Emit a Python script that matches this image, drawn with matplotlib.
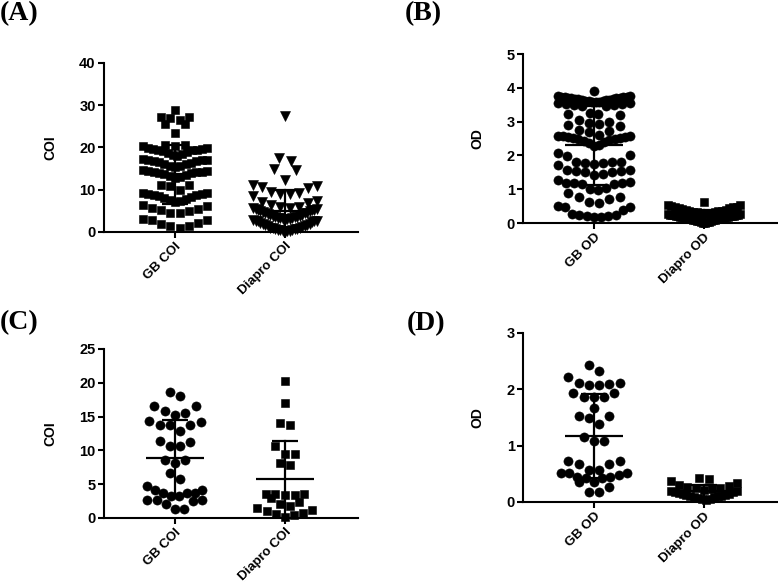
import numpy as np
import matplotlib
matplotlib.use("Agg")
import matplotlib.pyplot as plt

plt.rcParams["font.family"] = ["Liberation Sans", "DejaVu Sans"]
plt.rcParams["font.weight"] = "bold"

cats_coi = ["GB COI", "Diapro COI"]
cats_od = ["GB OD", "Diapro OD"]

# (A) COI, large sample
a_gb_coi = [0.9, 1.5, 1.5, 2.0, 2.1, 2.8, 2.9, 3.0,
            4.5, 4.5, 4.9, 5.3, 5.4, 5.7, 6.1, 6.3,
            7.2, 7.4, 7.6, 7.9, 8.1, 8.3, 8.5, 8.7, 8.8, 9.0, 9.1, 9.2, 9.3,
            10.0, 10.8, 11.1, 11.2,
            12.8, 13.0, 13.3, 13.5, 13.7, 13.9, 14.0, 14.1, 14.2, 14.3, 14.4, 14.5, 14.6,
            15.3, 15.5, 15.7, 16.0, 16.2, 16.4, 16.6, 16.8, 16.9, 17.0, 17.1, 17.1, 17.2,
            18.0, 18.2, 18.5, 18.7, 18.9, 19.1, 19.3, 19.4, 19.5, 19.6, 19.7, 19.8, 19.9,
            20.3, 20.4, 20.5, 20.7,
            23.4, 25.6, 25.6, 26.4, 27.0, 27.1, 27.2, 28.8]
a_diapro_coi = [0.1, 0.2, 0.2, 0.3, 0.4, 0.5, 0.5, 0.6, 0.7, 0.8, 0.9, 0.9, 1.0, 1.2,
                1.3, 1.4, 1.6, 1.7, 1.9, 2.0, 2.2, 2.4,
                2.5, 2.6, 2.6, 2.7, 2.8, 2.9, 3.0, 3.0, 3.1, 3.2, 3.3, 3.4, 3.5, 3.5,
                3.6, 3.8, 3.9, 4.0, 4.1, 4.3, 4.4, 4.5, 4.6, 4.8,
                4.9, 5.0, 5.1, 5.2, 5.3, 5.4, 5.5, 5.6, 5.7, 5.9, 6.0, 6.5, 6.8, 7.1,
                7.4, 8.4, 8.9, 9.0, 9.3, 9.5,
                10.4, 10.6, 10.8, 11.2, 12.2,
                14.6, 14.8, 16.8, 17.5, 27.4]

# (B) OD, large sample
b_gb_od = [0.19, 0.19, 0.21, 0.22, 0.24, 0.25, 0.26, 0.40, 0.46, 0.46, 0.50,
           0.60, 0.62, 0.72, 0.78, 0.78, 0.88,
           0.97, 1.02, 1.05, 1.15, 1.16, 1.17, 1.18, 1.19, 1.20, 1.27,
           1.43, 1.45, 1.50, 1.52, 1.53, 1.55, 1.56, 1.57, 1.72,
           1.76, 1.78, 1.79, 1.80, 1.81, 1.82, 1.98, 2.02, 2.07,
           2.28, 2.32, 2.36, 2.40, 2.43, 2.46, 2.48, 2.50, 2.52, 2.53, 2.55, 2.55,
           2.56, 2.57, 2.58, 2.60,
           2.70, 2.72, 2.75, 2.88, 2.90, 2.92, 2.95,
           3.00, 3.05, 3.20, 3.22, 3.24, 3.25,
           3.45, 3.46, 3.48, 3.50, 3.51, 3.53, 3.54, 3.55, 3.57, 3.58, 3.59, 3.60,
           3.61, 3.62, 3.63, 3.64, 3.65, 3.66, 3.67, 3.68, 3.69, 3.70, 3.70, 3.71,
           3.72, 3.73, 3.74, 3.74, 3.75, 3.76, 3.92]
b_diapro_od = [0.00, 0.01, 0.02, 0.03, 0.04, 0.05, 0.06, 0.07, 0.08, 0.08, 0.09, 0.10,
               0.11, 0.12, 0.12, 0.13, 0.14, 0.15, 0.15, 0.16, 0.17, 0.18, 0.18, 0.19,
               0.20, 0.20, 0.21, 0.22, 0.22, 0.23, 0.23, 0.24, 0.25, 0.25, 0.26, 0.27,
               0.28, 0.29, 0.30, 0.31, 0.32, 0.33, 0.34, 0.35, 0.36, 0.37, 0.38, 0.40,
               0.42, 0.43, 0.44, 0.46, 0.47, 0.48, 0.51, 0.53, 0.54, 0.61]

# (C) COI, small sample
c_gb_coi = [1.3, 1.3, 2.1, 2.5, 2.7, 2.7, 2.7, 3.2, 3.2, 3.7, 3.7, 3.7, 4.1, 4.1, 4.7,
            5.7, 6.7, 8.1, 8.6, 8.6, 10.7, 10.7, 11.3, 11.4, 12.8, 13.8, 13.8, 13.8,
            14.2, 14.3, 15.3, 15.6, 15.8, 16.5, 16.6, 18.1, 18.6]
c_diapro_coi = [0.2, 0.4, 0.6, 0.8, 1.0, 1.2, 1.5, 1.8, 2.0, 2.3,
                2.9, 3.4, 3.4, 3.5, 3.5, 3.6, 7.9, 8.1, 9.5, 9.5, 10.6,
                13.8, 14.0, 17.0, 20.3]

# (D) OD, small sample
d_gb_od = [0.17, 0.17, 0.27, 0.35, 0.36, 0.42, 0.42, 0.45, 0.45, 0.48, 0.51, 0.51,
           0.51, 0.57, 0.57, 0.67, 0.67, 0.73, 0.73, 1.08, 1.08, 1.16, 1.38, 1.49,
           1.53, 1.53, 1.66, 1.86, 1.87, 1.87, 1.93, 1.93, 2.07, 2.07, 2.09, 2.12,
           2.12, 2.22, 2.33, 2.43]
d_diapro_od = [0.03, 0.05, 0.06, 0.07, 0.08, 0.09, 0.10, 0.10, 0.11, 0.12, 0.13, 0.14,
               0.15, 0.16, 0.17, 0.18, 0.19, 0.20, 0.22, 0.23, 0.24, 0.25, 0.26, 0.28,
               0.30, 0.34, 0.37, 0.40, 0.43]

XLIM = (-0.645, 1.664)
PX_PER_CAT = 110.0


def swarm(values, row_h, step, half_w):
    """Prism-like scatter: sorted values grouped in rows, spread from the centre out."""
    v = np.sort(np.asarray(values, dtype=float))
    dx = np.zeros_like(v)
    i = 0
    while i < len(v):
        j = i
        while j < len(v) and v[j] - v[i] <= row_h + 1e-9:
            j += 1
        n = j - i
        sp = step if n < 2 else min(step, 2 * half_w / (n - 1))
        slots = (np.arange(n) - (n - 1) / 2) * sp
        order = sorted(range(n), key=lambda k: (round(abs(slots[k]), 6), slots[k] < 0))
        for rank, k in enumerate(order):
            dx[i + rank] = slots[k]
        i = j
    return v, dx


def panel(fig, rect, groups, cats, ymax, ystep, ylabel, ylab_x, half_w):
    ax = fig.add_axes(rect)
    px_per_unit = rect[3] * 582 / ymax
    for k, (vals, marker, ms) in enumerate(groups):
        ms_px = ms * 100 / 72
        y, dx = swarm(vals, 1.15 * ms_px / px_per_unit, 1.12 * ms_px / PX_PER_CAT, half_w)
        ax.plot(k + dx, y, ls="none", marker=marker, ms=ms, color="black",
                mec="black", mew=0.4, clip_on=False, zorder=3)
        m = np.mean(vals)
        sd = np.std(vals, ddof=1)
        ax.plot([k - 0.26, k + 0.26], [m, m], color="black", lw=1.6, zorder=4,
                solid_capstyle="butt")
        ax.plot([k, k], [m - sd, m + sd], color="black", lw=1.6, zorder=4)
        for e in (m - sd, m + sd):
            ax.plot([k - 0.115, k + 0.115], [e, e], color="black", lw=1.6, zorder=4,
                    solid_capstyle="butt")
    ax.set_xlim(*XLIM)
    ax.set_ylim(0, ymax)
    ax.set_yticks(np.arange(0, ymax + ystep / 2, ystep))
    ax.set_xticks([0, 1])
    ax.set_xticklabels(cats, rotation=45, ha="right", rotation_mode="anchor")
    for s in ("top", "right"):
        ax.spines[s].set_visible(False)
    for s in ("left", "bottom"):
        ax.spines[s].set_linewidth(1.5)
    ax.tick_params(direction="out", length=4, width=1.5, pad=2)
    ax.tick_params(axis="y", labelsize=10.5)
    ax.tick_params(axis="x", labelsize=9.5)
    ax.set_ylabel(ylabel, fontsize=10, fontweight="bold")
    ax.yaxis.set_label_coords(ylab_x, 0.5)
    return ax


fig = plt.figure(figsize=(7.78, 5.82), dpi=100)

panel(fig, [0.1337, 0.6014, 0.3265, 0.2904],
      [(a_gb_coi, "s", 6.2), (a_diapro_coi, "v", 7.2)],
      cats_coi, 40, 10, "COI", -0.185, 0.29)
panel(fig, [0.6722, 0.6168, 0.3265, 0.2904],
      [(b_gb_od, "o", 6.6), (b_diapro_od, "s", 5.9)],
      cats_od, 5, 1, "OD", -0.15, 0.33)
panel(fig, [0.1337, 0.1100, 0.3265, 0.2904],
      [(c_gb_coi, "o", 6.6), (c_diapro_coi, "s", 6.2)],
      cats_coi, 25, 5, "COI", -0.185, 0.25)
panel(fig, [0.6722, 0.1375, 0.3265, 0.2904],
      [(d_gb_od, "o", 6.6), (d_diapro_od, "s", 6.0)],
      cats_od, 3, 1, "OD", -0.15, 0.30)

letter_font = dict(family=["Liberation Serif", "DejaVu Serif"], fontsize=20,
                   fontweight="bold", va="center", ha="left")
fig.text(0 / 778, 1 - 14 / 582, "(A)", **letter_font)
fig.text(405 / 778, 1 - 14 / 582, "(B)", **letter_font)
fig.text(0 / 778, 1 - 323 / 582, "(C)", **letter_font)
fig.text(407 / 778, 1 - 324 / 582, "(D)", **letter_font)

fig.savefig("out.png", dpi=100)
plt.close(fig)
